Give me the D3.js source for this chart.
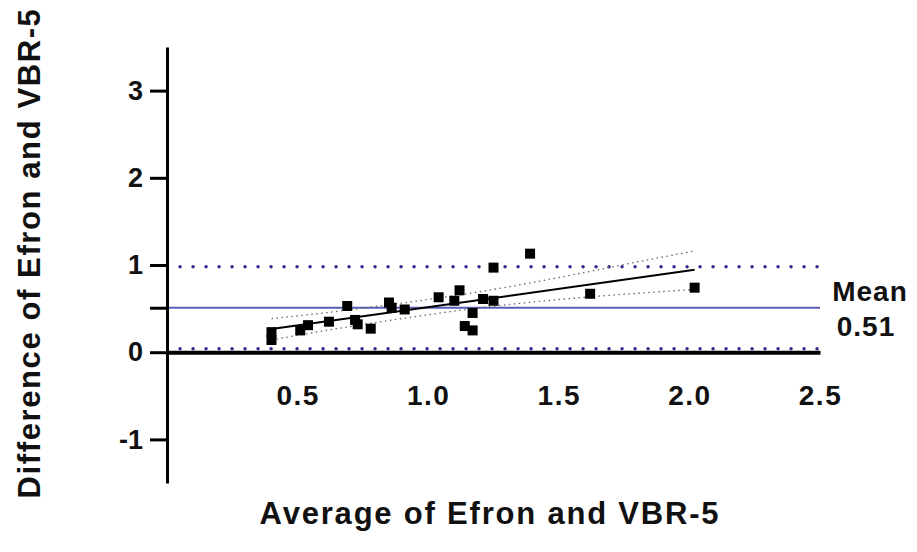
<!DOCTYPE html>
<html>
<head>
<meta charset="utf-8">
<script src="https://cdn.jsdelivr.net/npm/d3@7"></script>
<style>
  body { margin: 0; background: #fff; }
  text { font-family: "Liberation Sans", Arial, sans-serif; font-weight: bold; fill: #111; }
</style>
</head>
<body>
<div id="graph"></div>
<script>
const width = 917;
const height = 552;

// Bland-Altman points: average (x) vs difference (y)
const avgValues = [0.40, 0.40, 0.51, 0.54, 0.62, 0.69, 0.72, 0.73, 0.78, 0.85, 0.86, 0.91,
  1.04, 1.10, 1.12, 1.14, 1.17, 1.17, 1.21, 1.25, 1.25, 1.39, 1.62, 2.02];
const diffValues = [0.14, 0.23, 0.25, 0.31, 0.35, 0.53, 0.37, 0.32, 0.27, 0.57, 0.51, 0.49,
  0.63, 0.59, 0.71, 0.30, 0.45, 0.25, 0.61, 0.59, 0.97, 1.13, 0.67, 0.74];

const meanDiff = 0.51;
const upperLoA = 0.98;
const lowerLoA = 0.04;

// regression line and its confidence band
const regX = [0.40, 2.02];
const regY = [0.265, 0.945];
const bandX = [0.40, 0.60, 0.80, 1.00, 1.20, 1.40, 1.60, 1.80, 2.02];
const bandUpper = [0.385, 0.45, 0.525, 0.605, 0.695, 0.80, 0.915, 1.035, 1.16];
const bandLower = [0.14, 0.245, 0.34, 0.43, 0.51, 0.575, 0.63, 0.675, 0.72];

const xTicks = [0.5, 1.0, 1.5, 2.0, 2.5];
const yTicks = [-1, 0, 1, 2, 3];

const svg = d3.select("#graph")
  .append("svg")
  .attr("width", width)
  .attr("height", height);

const x = d3.scaleLinear()
  .domain([0, 2.5])
  .range([167, 820]);

const y = d3.scaleLinear()
  .domain([-1.5, 3.5])
  .range([483, 47]);

// limits of agreement (dotted) and mean (solid)
[upperLoA, lowerLoA].forEach(v => {
  svg.append("line")
    .attr("x1", x(0.05)).attr("x2", x(2.5))
    .attr("y1", y(v)).attr("y2", y(v))
    .attr("stroke", "#2e2e90")
    .attr("stroke-width", 3.5)
    .attr("stroke-linecap", "round")
    .attr("stroke-dasharray", "0,13");
});

svg.append("line")
  .attr("x1", x(0)).attr("x2", x(2.5))
  .attr("y1", y(meanDiff)).attr("y2", y(meanDiff))
  .attr("stroke", "#5c5cb8")
  .attr("stroke-width", 2);

// x axis sits on zero
const xAxis = d3.axisBottom(x)
  .tickValues(xTicks)
  .tickFormat(d3.format(".1f"))
  .tickSize(0)
  .tickPadding(33);

const gx = svg.append("g")
  .attr("transform", `translate(0, ${y(0)})`)
  .call(xAxis);
gx.select(".domain").attr("stroke", "#000").attr("stroke-width", 4);
gx.selectAll("text")
  .style("font-size", "28px")
  .style("letter-spacing", "1.5px")
  .attr("fill", "#111");

const yAxis = d3.axisLeft(y)
  .tickValues(yTicks)
  .tickFormat(d => d < 0 ? "-" + Math.abs(d) : String(d))
  .tickSize(17)
  .tickSizeOuter(0)
  .tickPadding(7);

const gy = svg.append("g")
  .attr("transform", `translate(${x(0)}, 0)`)
  .call(yAxis);
gy.select(".domain").attr("stroke", "#000").attr("stroke-width", 3);
gy.selectAll(".tick line").attr("stroke", "#000").attr("stroke-width", 3);
gy.selectAll("text").style("font-size", "27px").attr("fill", "#111");

// extra unlabeled tick at the mean
const gm = svg.append("g")
  .attr("transform", `translate(${x(0)}, 0)`)
  .call(d3.axisLeft(y).tickValues([meanDiff]).tickFormat("").tickSize(17).tickSizeOuter(0));
gm.select(".domain").remove();
gm.selectAll(".tick line").attr("stroke", "#000").attr("stroke-width", 3);

// confidence band of the regression
const band = d3.line()
  .x(d => x(d[0]))
  .y(d => y(d[1]))
  .curve(d3.curveMonotoneX);

[bandUpper, bandLower].forEach(arr => {
  svg.append("path")
    .datum(bandX.map((v, i) => [v, arr[i]]))
    .attr("fill", "none")
    .attr("stroke", "#666")
    .attr("stroke-width", 1.3)
    .attr("stroke-dasharray", "1.5,3.5")
    .attr("d", band);
});

svg.append("path")
  .datum(regX.map((v, i) => [v, regY[i]]))
  .attr("fill", "none")
  .attr("stroke", "#000")
  .attr("stroke-width", 2)
  .attr("d", band);

// points
svg.append("g")
  .selectAll("path")
  .data(avgValues.map((v, i) => [v, diffValues[i]]))
  .join("path")
  .attr("transform", d => `translate(${x(d[0])}, ${y(d[1])})`)
  .attr("d", d3.symbol(d3.symbolSquare, 100))
  .attr("fill", "#000");

// mean label
svg.append("text")
  .attr("x", 870)
  .attr("y", 301)
  .attr("text-anchor", "middle")
  .style("font-size", "28px")
  .style("letter-spacing", "1px")
  .text("Mean");
svg.append("text")
  .attr("x", 866)
  .attr("y", 336)
  .attr("text-anchor", "middle")
  .style("font-size", "28px")
  .style("letter-spacing", "1px")
  .text(meanDiff.toFixed(2));

// Axis labels
svg.append("text")
  .attr("text-anchor", "middle")
  .attr("x", 490)
  .attr("y", 524)
  .style("font-size", "31px")
  .style("letter-spacing", "1.8px")
  .text("Average of Efron and VBR-5");
svg.append("text")
  .attr("text-anchor", "middle")
  .attr("transform", "translate(40, 253) rotate(-90)")
  .style("font-size", "31px")
  .style("letter-spacing", "1.6px")
  .text("Difference of Efron and VBR-5");
</script>
</body>
</html>
